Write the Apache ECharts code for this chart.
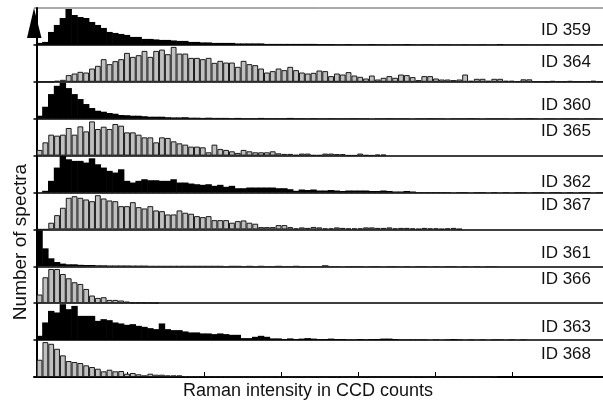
<!DOCTYPE html>
<html>
<head>
<meta charset="utf-8">
<script src="https://cdn.jsdelivr.net/npm/echarts@6.0.0/dist/echarts.min.js"></script>
<style>
  html, body { margin: 0; padding: 0; background: #fff; }
  #chart { width: 603px; height: 400px; }
</style>
</head>
<body>
<div id="chart"></div>
<script>
// panel names, top to bottom (black and grey alternate)
const panelIds = ['ID 359', 'ID 364', 'ID 360', 'ID 365', 'ID 362', 'ID 367', 'ID 361', 'ID 366', 'ID 363', 'ID 368']

// histogram counts per intensity bin
const id359 = [2, 3, 13, 20, 27, 36, 30, 28, 27, 23,
  20, 17, 13, 12, 11, 10, 8, 8, 6, 6,
  5.5, 5, 5, 4.5, 4, 4, 3, 3, 2.5, 2.5,
  2, 2, 2, 2, 1.5, 1.5, 1.5, 1.5, 1.5, 1,
  1, 1, 1, 1, 1, 1, 1, 1, 0.8, 0.8,
  0.8, 0.5, 0.5, 0.8, 0.5, 0.5, 0.5, 0.8, 0.5, 0.5,
  0.3, 0.5, 0.5, 0.8, 0.5, 0.3, 0.5, 0.5, 0.3, 0.5,
  0.5, 0.3, 0.3, 0.5, 0.3, 0.3, 0.5, 0.3, 0.3, 0.8,
  0.3, 0.3, 0.3, 0.5, 0.3, 0.3, 0.3, 0.5, 0.3, 0.3,
  0.3, 0.5, 0.3, 0.3, 0.3, 0.5, 0.3, 0.3]
const id364 = [0, 0, 0, 1, 2, 6.7, 8.3, 10, 9.3, 13.3,
  16, 22.7, 17.7, 20.7, 22.7, 29, 25, 26.7, 31, 25,
  31, 32.3, 27.7, 35, 28.3, 28.3, 24, 24, 22.7, 24,
  19, 21, 19.3, 19.3, 15, 21, 17.7, 16.7, 13.3, 9.3,
  10.7, 13.3, 11.7, 15, 11.7, 9.3, 8.3, 9, 11.3, 10.7,
  5.7, 8.3, 7.3, 9.7, 6.3, 5, 3.3, 6.3, 2.3, 4,
  5.7, 4, 7.3, 6.7, 4.7, 1.7, 5.7, 5.7, 3.3, 2.3,
  2.3, 1.7, 2.3, 7.3, 1, 3, 3, 1, 3, 3,
  1, 1, 0.5, 2.5, 2.5, 0.5, 0.5, 0, 0.8, 0.5,
  0.5, 0.8, 0.5, 0.5, 0.5, 1, 0.5, 0.5]
const id360 = [3, 12, 24.7, 33, 36, 30.7, 24.7, 19.7, 14.7, 10.7,
  8, 7, 5.7, 5, 3.7, 3.5, 3, 3, 2.5, 2,
  2, 2, 1.5, 1.3, 1.3, 1.5, 1, 1, 0.8, 1,
  0.8, 0.8, 0.8, 0.5, 0.8, 0.5, 0.5, 0.5, 0.8, 0.5,
  0.5, 0.5, 0.5, 0.8, 0.5, 0.5, 0.3, 0.5, 0.3, 0.3,
  0.5, 0.3, 0.3, 0.3, 0.5, 0.3, 0.3, 0, 0.3, 0.3,
  0.5, 0.3, 0.3, 0.3, 0, 0.3, 0.3, 0.5, 0.3, 0.3,
  0, 0.3, 0.3, 0.3, 0.5, 0.3, 0, 0.3, 0.3, 0.3,
  0.3, 0, 0.3, 0.3, 0.5, 0.3, 0, 0.3, 0.3, 0,
  0.3, 0.3, 0.3, 0, 0.3, 0.3, 0, 0.3]
const id365 = [5.7, 13.3, 21, 20, 21, 27.7, 21, 29.3, 24.3, 34.3,
  26.7, 29, 26.7, 31.7, 30, 23.3, 23.3, 21, 18.3, 18.3,
  13.3, 18.3, 17.7, 14.3, 12.3, 11, 9, 9, 8.3, 3.3,
  11, 6.7, 5.7, 4.3, 2.7, 5.7, 4.3, 3.3, 3.3, 3.3,
  4.3, 2.3, 1.7, 1.7, 0.7, 2, 2, 0.5, 0.5, 2,
  2, 1.5, 1.5, 0.3, 0.3, 2, 0.5, 0.3, 1, 1]
const id362 = [0, 1.7, 11.7, 25, 36.7, 33.3, 31.7, 31.7, 30, 34.3,
  28.3, 25, 21.7, 20, 23.3, 11.7, 10, 11.7, 13.3, 12.3,
  12.3, 11.7, 11.7, 13.3, 10, 10, 9, 8.3, 7.7, 8.3,
  6.7, 7.7, 5.7, 6.7, 4.3, 4.3, 5, 5, 5, 5,
  5, 4.3, 4.3, 3.3, 1.7, 3, 2.5, 3, 2, 2,
  2.5, 2, 1.5, 2, 2, 2, 2, 1.5, 1.5, 2,
  1.5, 1, 1, 1.5, 1, 0.5, 0.5, 0.5, 0.5, 0.5,
  0.5, 0, 0.5, 0.5, 0, 0.5, 0.5, 0, 0.5, 0,
  0.5, 0, 0.5, 0.5, 0, 0.5, 0.5, 0, 0.5, 0.5,
  0, 0.5, 0, 0.5, 0.5, 0, 0.5, 0.5]
const id367 = [0, 0, 6.7, 14.3, 21.7, 31.7, 33.3, 31.7, 30, 28.3,
  34.3, 31, 29, 28.3, 23.3, 23.3, 27.3, 22.3, 21, 23.3,
  19, 18.3, 15, 15, 19, 16.7, 15.7, 13.3, 12.3, 13.3,
  9.3, 9.3, 9.3, 6.7, 8.3, 9, 6.7, 5.7, 2.3, 2.3,
  2.3, 4.3, 4.3, 2.3, 1, 2, 1.5, 2.5, 2, 1,
  1, 2, 1.5, 1, 1, 1, 2, 2, 1.5, 1.5,
  2, 1, 1.5, 1.5, 1, 0.5, 1.5, 1, 1, 0.5,
  1, 1.5, 0.5]
const id361 = [36, 18, 8, 4.3, 2.7, 2, 2, 1.5, 1.3, 1.3,
  1, 1, 0.8, 0.8, 0.8, 0.8, 0.7, 0.7, 0.7, 0.5,
  0.5, 0.5, 0.5, 0.5, 0.5, 0.5, 0.5, 0.5, 0.5, 0.5,
  0.5, 0.5, 0.3, 0.5, 0.5, 0.3, 0.5, 0.3, 0.5, 0.3,
  0.3, 0.5, 0.3, 0.3, 0.5, 0.3, 0.3, 0.3, 0.3, 1,
  0.3, 0.3, 0, 0.3, 0.3, 0.3, 0, 0.3, 0.3, 0,
  0.3, 0.3, 0, 0.3, 0, 0.3, 0.3, 0, 0.3, 0,
  0.3, 0.3, 0, 0.3, 0, 0.3, 0, 0.3, 0.3, 0]
const id366 = [8.7, 26, 34.3, 34.3, 29.3, 25, 21, 19.3, 14.3, 7.7,
  5.3, 6, 3.3, 3.3, 2.7, 1.7, 0.7, 0.7, 0.5, 0.5, 0.3]
const id363 = [4.3, 17.7, 29.3, 27.7, 36, 31, 34.3, 24.3, 24.3, 24.3,
  19.3, 21, 20, 17.7, 16.7, 15.3, 16, 14.3, 13.3, 12,
  11, 16.7, 11, 10, 10, 8.7, 7.7, 7.7, 6.7, 6.7,
  6, 6.7, 6, 5.3, 5.3, 2, 2, 3.3, 4.3, 3.3,
  1.7, 1.7, 1, 1.7, 1, 1.5, 2, 1.5, 1, 1,
  1.5, 1, 1, 0.5, 0.5, 1, 0.5, 1, 1, 1.5,
  1.5, 1, 0.5, 0.5, 0.5, 0.5, 0.5, 0, 0.5, 0,
  0.5, 1, 0.5, 0, 0.5, 0, 0.5, 0, 0.5, 0.5,
  0, 0.5, 0, 0.5]
const id368 = [17.3, 35, 33.3, 28.3, 21.7, 16, 15, 14, 11.7, 10,
  8.3, 5.7, 7.3, 5.7, 6, 3.3, 4, 2.7, 1.7, 3.3,
  2.3, 2.3, 1.7, 1.7, 1.7, 1, 0.7, 0.7, 1, 0.5,
  0.5, 0.5, 0.5, 0.3, 0.5, 0.3, 0.3, 0.5, 0.3, 0.3,
  0.5, 0.3, 0.3, 0.3, 0.5, 0.5, 0, 0.5, 0.3, 0,
  0.5, 0.3, 0.3, 0, 0, 0.3, 0.5, 0, 0, 0,
  0, 0, 0, 0, 0.3, 0.5, 0.3, 0, 0, 0,
  0, 0, 0, 0, 0, 0, 0, 0, 0.5]

// tick marks on the intensity axis (in bin units)
const intensityTicks = [15.5, 28.7, 41.9, 55.1, 68.3, 81.5]

const panels = [id359, id364, id360, id365, id362, id367, id361, id366, id363, id368]

// layout
const LEFT = 34
const TOP = 8
const PANEL_H = 36.9
const BIN = 5.83
const xMin = -0.45
const xMax = xMin + (603 - LEFT) / BIN
const labelOffset = [22, 17, 24, 12.5, 26.5, 12.5, 23.5, 12.7, 23.8, 14]
const FONT = '"Liberation Sans", Arial, sans-serif'

const chart = echarts.init(document.getElementById('chart'))
const grid = []
const xAxis = []
const yAxis = []
const series = []
const graphic = []

panels.forEach((vals, i) => {
  const dark = i % 2 === 0
  const last = i === panels.length - 1
  grid.push({ left: LEFT, right: 0, top: TOP + PANEL_H * i, height: PANEL_H })
  xAxis.push({
    gridIndex: i,
    type: 'value',
    min: xMin,
    max: xMax,
    axisLine: { show: true, onZero: false, lineStyle: { color: '#000', width: last ? 2 : 1.5 } },
    axisTick: last
      ? { show: true, inside: true, length: 5, customValues: intensityTicks, lineStyle: { color: '#000', width: 1 } }
      : { show: false },
    axisLabel: { show: false },
    splitLine: { show: false }
  })
  yAxis.push({
    gridIndex: i,
    type: 'value',
    min: 0,
    max: 37,
    axisLine: { show: true, lineStyle: { color: '#000', width: 2 } },
    axisTick: { show: false },
    axisLabel: { show: false },
    splitLine: { show: false }
  })
  series.push({
    type: 'bar',
    xAxisIndex: i,
    yAxisIndex: i,
    data: vals.map((v, k) => [k + 0.5, v]),
    barWidth: dark ? BIN + 0.6 : BIN,
    itemStyle: dark
      ? { color: '#000' }
      : { color: '#c0c0c0', borderColor: '#1a1a1a', borderWidth: 1 },
    silent: true
  })
  graphic.push({
    type: 'text',
    x: 591,
    y: TOP + PANEL_H * i + labelOffset[i],
    style: {
      text: panelIds[i],
      textAlign: 'right',
      textVerticalAlign: 'middle',
      font: '17px ' + FONT,
      fill: '#111'
    }
  })
})

// frame top line, arrow head and axis titles
graphic.push(
  { type: 'line', shape: { x1: LEFT, y1: TOP, x2: 603, y2: TOP }, style: { stroke: '#555', lineWidth: 1 } },
  { type: 'polygon', shape: { points: [[34, 8], [27, 38], [41.5, 38]] }, style: { fill: '#000' } },
  {
    type: 'text', x: 308, y: 391,
    style: { text: 'Raman intensity in CCD counts', textAlign: 'center', textVerticalAlign: 'middle', font: '18px ' + FONT, fill: '#111' }
  },
  {
    type: 'text', x: 21, y: 242, rotation: Math.PI / 2,
    style: { text: 'Number of spectra', textAlign: 'center', textVerticalAlign: 'middle', font: '19px ' + FONT, fill: '#111' }
  }
)

chart.setOption({
  animation: false,
  grid: grid,
  xAxis: xAxis,
  yAxis: yAxis,
  series: series,
  graphic: graphic
})
</script>
</body>
</html>
